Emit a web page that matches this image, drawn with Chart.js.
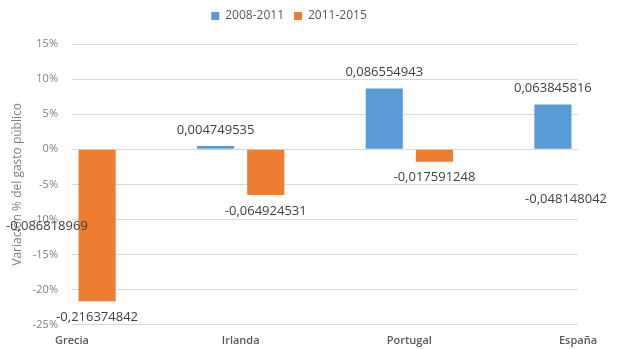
<!DOCTYPE html>
<html>
<head>
<meta charset="utf-8">
<script src="https://cdn.jsdelivr.net/npm/chart.js@4/dist/chart.umd.min.js"></script>
<style>
  html, body { margin: 0; padding: 0; background: #fff; }
  #wrap { width: 626px; height: 349px; }
</style>
</head>
<body>
<div id="wrap"><canvas id="c" width="626" height="349"></canvas></div>
<script>
// Variación del gasto público por país y periodo
const paises = ['Grecia', 'Irlanda', 'Portugal', 'España'];
const periodos = ['2008-2011', '2011-2015'];
const var2008_2011 = [-0.086818969, 0.004749535, 0.086554943, 0.063845816];
const var2011_2015 = [-0.216374842, -0.064924531, -0.017591248, -0.048148042];
const ejeY = { min: -0.25, max: 0.15, paso: 0.05 };

const AZUL = '#5b9bd5';
const NARANJA = '#ed7d31';
const FUENTE = "'Open Sans', 'Liberation Sans', sans-serif";

// Etiquetas con el valor de cada barra (coma decimal)
const etiquetasValor = {
  id: 'etiquetasValor',
  afterDatasetsDraw(chart) {
    const ctx = chart.ctx;
    ctx.save();
    ctx.font = '13px ' + FUENTE;
    ctx.fillStyle = '#404040';
    ctx.textAlign = 'center';
    ctx.textBaseline = 'middle';
    chart.data.datasets.forEach((ds, i) => {
      const meta = chart.getDatasetMeta(i);
      meta.data.forEach((el, j) => {
        const v = ds.data[j];
        const txt = String(v).replace('.', ',');
        const w = ctx.measureText(txt).width;
        let x = el.x;
        x = Math.max(x, w / 2 + 1);
        x = Math.min(x, chart.width - 19 - w / 2);
        const y = v >= 0 ? el.y - 16 : el.y + 16;
        ctx.fillText(txt, x, y);
      });
    });
    ctx.restore();
  }
};

// Espacio extra bajo la leyenda
const margenLeyenda = {
  id: 'margenLeyenda',
  beforeInit(chart) {
    const fit = chart.legend.fit;
    chart.legend.fit = function () {
      fit.call(this);
      this.height += 12;
    };
  }
};

new Chart(document.getElementById('c'), {
  type: 'bar',
  data: {
    labels: paises,
    datasets: [
      { label: periodos[0], data: var2008_2011, backgroundColor: AZUL, clip: 0,
        categoryPercentage: 0.595, barPercentage: 0.74 },
      { label: periodos[1], data: var2011_2015, backgroundColor: NARANJA, clip: 0,
        categoryPercentage: 0.595, barPercentage: 0.74 }
    ]
  },
  options: {
    responsive: false,
    animation: false,
    devicePixelRatio: 1,
    layout: { padding: { top: 0, right: 48, bottom: 1, left: 0 } },
    plugins: {
      legend: {
        position: 'top',
        labels: {
          boxWidth: 8, boxHeight: 8, padding: 10,
          color: '#595959',
          font: { family: FUENTE, size: 12 }
        }
      },
      tooltip: { enabled: false }
    },
    scales: {
      x: {
        offset: false,
        grid: { display: false },
        border: { display: false },
        ticks: {
          color: '#595959',
          padding: 1,
          autoSkip: false,
          maxRotation: 0,
          font: { family: FUENTE, size: 11, weight: '600' }
        }
      },
      y: {
        min: ejeY.min,
        max: ejeY.max,
        afterFit(s) { s.width = 72; },
        grid: { color: '#d9d9d9', drawTicks: false },
        border: { display: false },
        ticks: {
          stepSize: ejeY.paso,
          padding: 14,
          color: '#808080',
          font: { family: FUENTE, size: 11 },
          callback: v => Math.round(v * 100) + '%'
        },
        title: {
          display: true,
          text: 'Variación % del gasto público',
          color: '#808080',
          padding: { top: 10, bottom: 0 },
          font: { family: FUENTE, size: 12 }
        }
      }
    }
  },
  plugins: [etiquetasValor, margenLeyenda]
});
</script>
</body>
</html>
